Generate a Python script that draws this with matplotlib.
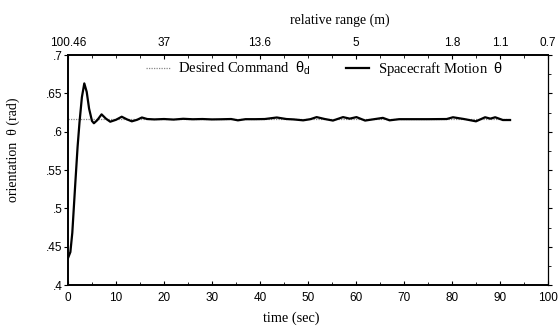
import matplotlib
matplotlib.use("Agg")
import matplotlib.pyplot as plt
from matplotlib.ticker import MultipleLocator, FixedLocator

plt.rcParams['mathtext.fontset'] = 'custom'
plt.rcParams['mathtext.rm'] = 'Liberation Serif'
plt.rcParams['mathtext.sf'] = 'Liberation Sans'
plt.rcParams['mathtext.it'] = 'Liberation Serif:italic'

# ---- data ----
time_s = [0, 0.5, 0.9, 1.5, 2.0, 2.4, 2.9, 3.4, 3.9, 4.4, 5.0, 5.4, 6.1, 7.0, 7.9, 8.8,
          10.0, 11.2, 12.3, 13.3, 14.4, 15.4, 16.5, 18, 20, 22, 24, 26, 28, 30, 32,
          34, 35.4, 37, 39, 41, 43.5, 45.5, 47, 49, 50.5, 51.8, 53.5, 55.2, 57.3,
          58.7, 60.1, 61.9, 63.8, 65.6, 67, 69, 72, 75, 78.9, 80.2, 82.5, 85, 86.9,
          88, 89, 90.6, 92.1]
theta = [0.435, 0.443, 0.468, 0.53, 0.58, 0.612, 0.645, 0.663, 0.652, 0.63, 0.614,
         0.611, 0.615, 0.6226, 0.617, 0.613, 0.6155, 0.6195, 0.616, 0.6135, 0.6155,
         0.6185, 0.6165, 0.616, 0.6165, 0.6158, 0.6168, 0.6162, 0.6165, 0.6160,
         0.6162, 0.6165, 0.6148, 0.6163, 0.6163, 0.6165, 0.6185, 0.6165, 0.6160,
         0.6148, 0.6163, 0.6190, 0.6165, 0.6145, 0.6190, 0.6170, 0.6190, 0.6145,
         0.6163, 0.6180, 0.6148, 0.6163, 0.6163, 0.6163, 0.6165, 0.6188, 0.6165,
         0.6135, 0.6188, 0.6170, 0.6188, 0.6152, 0.6152]
desired_t = [0, 92.1]
desired_theta = [0.6165, 0.6165]

top_tick_time = [0, 20, 40, 60, 80, 90, 100]
top_tick_labels = ['100.46', '37', '13.6', '5', '1.8', '1.1', '0.7']

serif = 'Liberation Serif'
sans = 'Liberation Sans'

fig = plt.figure(figsize=(5.59, 3.29), dpi=100)
ax = fig.add_axes([0.1216, 0.1337, 0.8587, 0.6991])

ax.plot(desired_t, desired_theta, color='#888888', lw=0.9, ls=(0, (1, 1)),
        label=r'Desired Command  $\mathsf{θ_{d}}$')
ax.plot(time_s, theta, color='black', lw=1.6, label=r'Spacecraft Motion  $\mathsf{θ}$')

ax.set_xlim(0, 100)
ax.set_ylim(0.4, 0.7)
ax.xaxis.set_major_locator(MultipleLocator(10))
ax.xaxis.set_minor_locator(MultipleLocator(5))
ax.yaxis.set_major_locator(MultipleLocator(0.05))
ax.yaxis.set_minor_locator(MultipleLocator(0.025))

def yfmt(v, pos):
    s = ('%.2f' % v).rstrip('0').rstrip('.')
    return s[1:] if s.startswith('0') else s
ax.yaxis.set_major_formatter(plt.FuncFormatter(yfmt))

ax.tick_params(axis='x', which='both', direction='in', top=False, labelsize=8.5, pad=5)
ax.tick_params(axis='y', which='both', direction='out', right=True, labelsize=8.5, pad=1)
ax.tick_params(axis='y', which='minor', left=False)
ax.tick_params(which='major', length=3)
ax.tick_params(which='minor', length=2.5)
for lab in ax.get_xticklabels() + ax.get_yticklabels():
    lab.set_fontfamily(sans)

for s in ['left', 'bottom', 'top']:
    ax.spines[s].set_linewidth(1.4)
ax.spines['right'].set_linewidth(0.9)

ax.set_xlabel('time (sec)', fontfamily=serif, fontsize=10.3)
ax.xaxis.set_label_coords(0.465, -0.117)
ax.set_ylabel('orientation  θ (rad)', fontfamily=serif, fontsize=10)
ax.yaxis.set_label_coords(-0.1, 0.59)

ax2 = ax.twiny()
ax2.set_xlim(ax.get_xlim())
ax2.xaxis.set_major_locator(FixedLocator(top_tick_time))
ax2.set_xticklabels(top_tick_labels, fontfamily=sans, fontsize=8.5)
ax2.xaxis.set_minor_locator(MultipleLocator(5))
ax2.tick_params(axis='x', which='both', direction='in', pad=4)
ax2.tick_params(which='major', length=3)
ax2.tick_params(which='minor', length=2.5)
ax2.set_xlabel('relative range (m)', fontfamily=serif, fontsize=10)
ax2.xaxis.set_label_coords(0.567, 1.135)
for s in ax2.spines.values():
    s.set_visible(False)

leg = ax.legend(loc='upper center', bbox_to_anchor=(0.535, 1.035), ncol=2, frameon=False,
                prop={'family': serif, 'size': 10.5}, handlelength=1.6,
                columnspacing=2.4, handletextpad=0.6)

fig.savefig('out.png', dpi=100)
